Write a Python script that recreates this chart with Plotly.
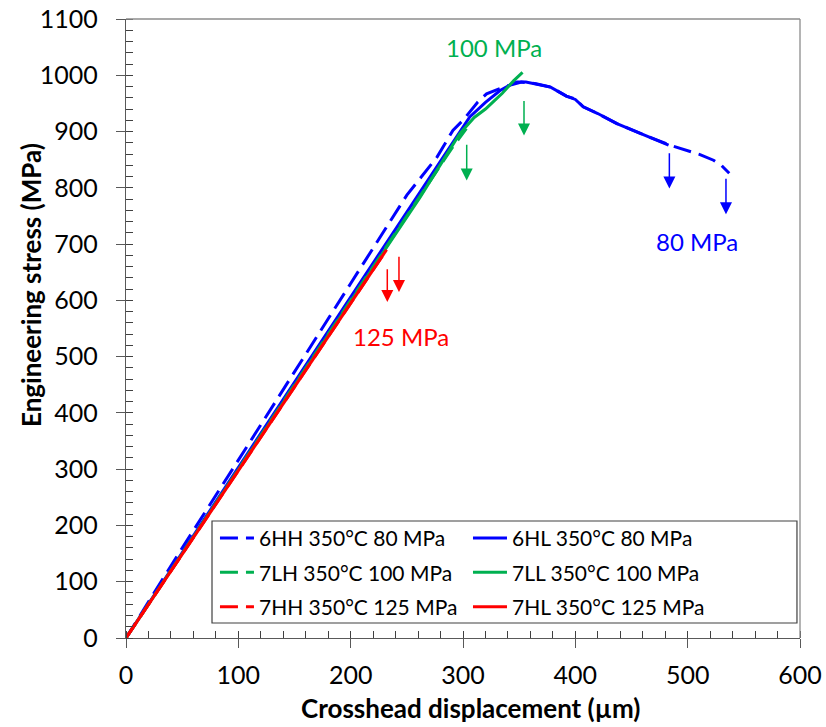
import plotly.graph_objects as go

# ---------------- data ----------------
x_6HH = [0, 50, 100, 150, 200, 250, 277, 291, 300, 313, 321, 336, 352, 365, 378, 392, 400, 407, 420, 437, 450, 466, 484, 497, 511, 523, 530, 537]
y_6HH = [0, 160, 316, 474, 630, 787, 855, 902, 920, 952, 967, 979, 988, 985, 979, 963, 958, 944, 932, 914, 903, 890, 876, 868, 859, 849, 840, 826]

x_6HL = [0, 50, 100, 150, 200, 259, 290, 306, 320, 333, 342, 348, 356, 365, 378, 392, 400, 407, 420, 437, 450, 466, 483]
y_6HL = [0, 152, 303, 455, 606, 784, 878, 926, 952, 973, 983, 988, 988, 984, 979, 963, 957, 944, 932, 914, 903, 890, 876]

x_7LH = [0, 100, 200, 260, 290, 303]
y_7LH = [0, 300, 600, 780, 870, 905]

x_7LL = [0, 100, 200, 262, 288, 297, 310, 320, 328, 335, 345, 353]
y_7LL = [0, 299, 598, 784, 867, 896, 925, 940, 955, 968, 990, 1005]

x_7HH = [0, 100, 200, 230]
y_7HH = [0, 297, 595, 684]

x_7HL = [0, 100, 200, 232]
y_7HL = [0, 297, 595, 690]

series_names = ["6HH 350°C 80 MPa", "6HL 350°C 80 MPa",
                "7LH 350°C 100 MPa", "7LL 350°C 100 MPa",
                "7HH 350°C 125 MPa", "7HL 350°C 125 MPa"]

# failure arrows (x, start stress, end stress)
arrow_x = [483.7, 534.1, 303.3, 354.3, 232.6, 243.0]
arrow_y_top = [864, 819, 879, 957, 658, 680]
arrow_y_bot = [799, 753, 813, 893, 597, 615]
arrow_group = ["b", "b", "g", "g", "r", "r"]

label_text = ["80 MPa", "100 MPa", "125 MPa"]
label_x = [508.3, 327.3, 244.8]
label_y = [705, 1050, 535]
label_group = ["b", "g", "r"]

x_ticks = [0, 100, 200, 300, 400, 500, 600]
y_ticks = list(range(0, 1101, 100))

x_title = "Crosshead displacement (µm)"
y_title = "Engineering stress (MPa)"

# ---------------- style ----------------
BLUE = "#0000FF"
GREEN = "#00B050"
RED = "#FF0000"
cmap = {"b": BLUE, "g": GREEN, "r": RED}
FONT = "Lato"
DASH = "18px,8px"

fig = go.Figure()

specs = [
    (x_6HH, y_6HH, series_names[0], BLUE, DASH, "legend"),
    (x_6HL, y_6HL, series_names[1], BLUE, "solid", "legend2"),
    (x_7LH, y_7LH, series_names[2], GREEN, DASH, "legend"),
    (x_7LL, y_7LL, series_names[3], GREEN, "solid", "legend2"),
    (x_7HH, y_7HH, series_names[4], RED, DASH, "legend"),
    (x_7HL, y_7HL, series_names[5], RED, "solid", "legend2"),
]
for xs, ys, nm, col, dash, lg in specs:
    fig.add_trace(go.Scatter(x=xs, y=ys, name=nm, mode="lines",
                             line=dict(color=col, width=3, dash=dash),
                             legend=lg, legendgroup=nm))

for xa, yt, yb, g in zip(arrow_x, arrow_y_top, arrow_y_bot, arrow_group):
    fig.add_annotation(x=xa, y=yb, ax=xa, ay=yt, xref="x", yref="y",
                       axref="x", ayref="y", text="", showarrow=True,
                       arrowhead=2, arrowsize=1.6, arrowwidth=1.5,
                       arrowcolor=cmap[g])

for t, lx, ly, g in zip(label_text, label_x, label_y, label_group):
    fig.add_annotation(x=lx, y=ly, xref="x", yref="y", text=t,
                       showarrow=False,
                       font=dict(family=FONT, size=24, color=cmap[g]))

# axis titles
fig.add_annotation(x=(470 - 126) / 674, y=-0.113, xref="paper", yref="paper",
                   text="<b>" + x_title + "</b>", showarrow=False,
                   xanchor="center", yanchor="middle",
                   font=dict(family=FONT, size=26, color="black"))
fig.add_annotation(x=(31 - 126) / 674, y=(638 - 285) / 619, xref="paper", yref="paper",
                   text="<b>" + y_title + "</b>", showarrow=False, textangle=-90,
                   xanchor="center", yanchor="middle",
                   font=dict(family=FONT, size=26, color="black"))

axis_common = dict(showgrid=False, zeroline=False, automargin=False,
                   tickfont=dict(family=FONT, size=25, color="black"),
                   ticks="outside", ticklen=9, tickwidth=1, tickcolor="#595959",
                   showline=True, linecolor="#595959", linewidth=1.3,
                   minor=dict(ticks="inside", ticklen=7, tickcolor="#404040",
                              dtick=20, tickwidth=1))

fig.update_layout(
    width=826, height=727,
    margin=dict(l=126, r=26, t=19, b=89, autoexpand=False),
    plot_bgcolor="white", paper_bgcolor="white",
    font=dict(family=FONT, color="black"),
    xaxis=dict(range=[0, 600], tickvals=x_ticks, ticklabelstandoff=6, **axis_common),
    yaxis=dict(range=[0, 1100], tickvals=y_ticks, ticklabelstandoff=13, **axis_common),
    xaxis2=dict(overlaying="x", anchor="y", range=[0, 600], tickvals=x_ticks,
                ticks="inside", ticklen=9, tickcolor="#595959", automargin=False,
                showticklabels=False, showline=False, showgrid=False,
                zeroline=False),
    yaxis2=dict(overlaying="y", anchor="x", range=[0, 1100], tickvals=y_ticks,
                ticks="inside", ticklen=9, tickcolor="#595959", automargin=False,
                showticklabels=False, showline=False, showgrid=False,
                zeroline=False),
    legend=dict(x=0.1320, y=0.194, xanchor="left", yanchor="top",
                bgcolor="rgba(0,0,0,0)", borderwidth=0, itemwidth=34,
                font=dict(family=FONT, size=21, color="black"),
                tracegroupgap=4),
    legend2=dict(x=0.5074, y=0.194, xanchor="left", yanchor="top",
                 bgcolor="rgba(0,0,0,0)", borderwidth=0, itemwidth=34,
                 font=dict(family=FONT, size=21, color="black"),
                 tracegroupgap=4),
    showlegend=True,
)

# plot frame top/right and legend box
fig.add_shape(type="line", xref="paper", yref="paper", x0=0, x1=1, y0=1, y1=1,
              line=dict(color="#8c8c8c", width=1.3))
fig.add_shape(type="line", xref="paper", yref="paper", x0=1, x1=1, y0=0, y1=1,
              line=dict(color="#8c8c8c", width=1.3))
fig.add_shape(type="rect", xref="paper", yref="paper",
              x0=0.1276, x1=0.9955, y0=0.0242, y1=0.189,
              line=dict(color="#404040", width=1.2))

fig.write_html("out.html", config={"displayModeBar": False},
               post_script="document.body.style.margin='0';document.body.style.overflow='hidden';")
